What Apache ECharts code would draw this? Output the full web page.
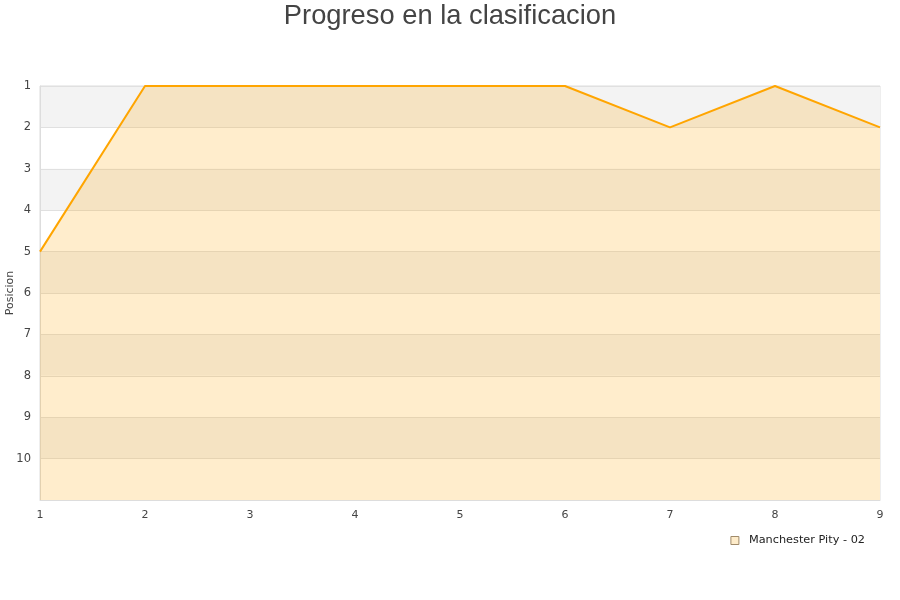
<!DOCTYPE html>
<html><head><meta charset="utf-8">
<script src="https://cdn.jsdelivr.net/npm/echarts@6/dist/echarts.min.js"></script>
<style>html,body{margin:0;padding:0;background:#fff}#c{width:900px;height:600px}</style>
</head><body><div id="c"></div>
<script>
const jornadas = [1, 2, 3, 4, 5, 6, 7, 8, 9];
const posiciones = [5, 1, 1, 1, 1, 1, 2, 1, 2];
const seriesName = 'Manchester Pity - 02';
const titleText = 'Progreso en la clasificacion';

const chart = echarts.init(document.getElementById('c'));
chart.setOption({
  animation: false,
  backgroundColor: '#fff',
  title: {
    text: titleText, left: 'center', top: -2,
    textStyle: { fontFamily: 'Liberation Sans, Arial, sans-serif', fontSize: 27.3, fontWeight: 'normal', color: '#444' }
  },
  grid: { left: 40, right: 20, top: 86, bottom: 100, containLabel: false, outerBoundsMode: 'none',
    show: true, borderColor: '#ddd', borderWidth: 1, backgroundColor: 'transparent' },
  legend: {
    right: 30, top: 530, icon: 'rect', itemWidth: 8, itemHeight: 8, itemGap: 10,
    textStyle: { fontFamily: 'DejaVu Sans, sans-serif', fontSize: 11.3, color: '#222', padding: [0, 0, 0, 5] },
    data: [{ name: seriesName, itemStyle: { color: '#feecca', borderColor: '#a08a6a', borderWidth: 1 } }]
  },
  xAxis: {
    type: 'value', min: 1, max: 9, interval: 1,
    axisLine: { show: true, lineStyle: { color: '#ddd' } },
    axisTick: { show: false },
    splitLine: { show: false },
    axisLabel: { fontFamily: 'DejaVu Sans, sans-serif', fontSize: 11, color: '#444', margin: 10 }
  },
  yAxis: {
    type: 'value', min: 1, max: 11, interval: 1, inverse: true,
    name: 'Posicion', nameLocation: 'middle', nameGap: 24, nameRotate: 90, nameMoveOverlap: false,
    nameTextStyle: { fontFamily: 'DejaVu Sans, sans-serif', fontSize: 11, color: '#444' },
    axisLine: { show: true, lineStyle: { color: '#ddd' } },
    axisTick: { show: false },
    axisLabel: { fontFamily: 'DejaVu Sans, sans-serif', fontSize: 11.5, color: '#444', margin: 9,
      formatter: v => (v === 11 ? '' : String(v)) },
    splitLine: { show: true, lineStyle: { color: '#e0e0e0' } },
    splitArea: { show: true, areaStyle: { color: ['#f3f3f3', '#ffffff'] } }
  },
  series: [{
    name: seriesName, type: 'line',
    data: jornadas.map((j, i) => [j, posiciones[i]]),
    showSymbol: false, symbol: 'none',
    lineStyle: { color: '#ffa500', width: 2 },
    itemStyle: { color: '#ffa500' },
    areaStyle: { color: '#ffa500', opacity: 0.2, origin: 'end' }
  }]
});
</script></body></html>
